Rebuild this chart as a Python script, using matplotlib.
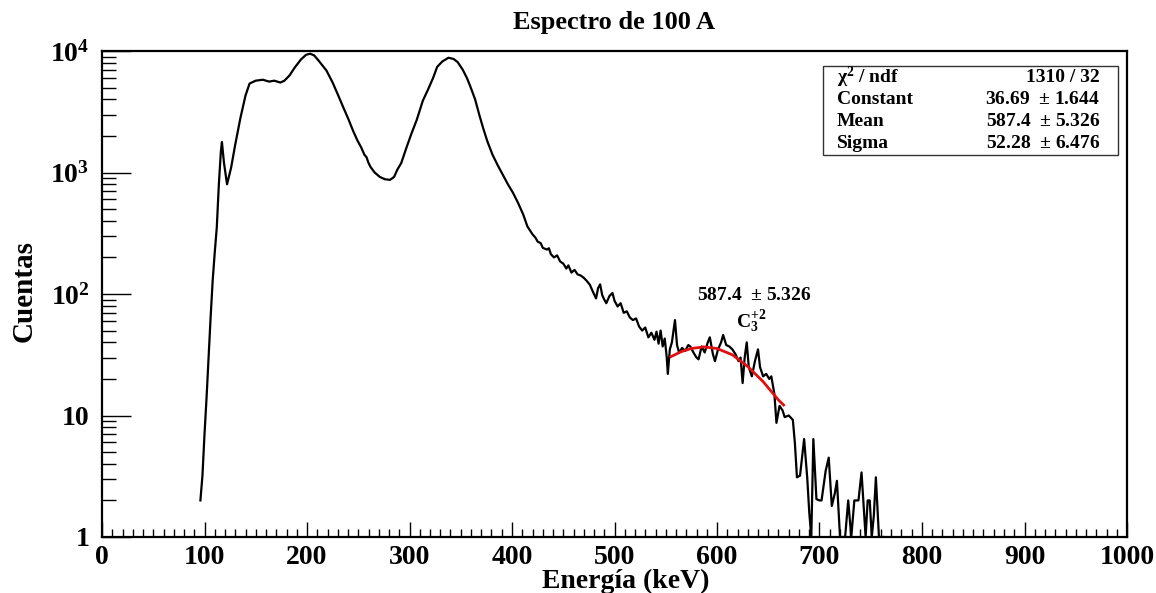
"""
Espectro de 100 A: energy spectrum (log scale) with gaussian fit on the C3+2 peak.
"""

import matplotlib
matplotlib.use('Agg')
import matplotlib.pyplot as plt
from matplotlib.ticker import FixedLocator, NullFormatter, LogLocator
from matplotlib.patches import Rectangle

# spectrum: energy (keV) and counts
energy = [96, 98, 100, 102, 104, 106, 108, 110, 112, 114, 116, 117, 119, 122,
          126, 130, 135, 140, 144, 150, 157, 163, 168, 174, 178, 183, 188, 194,
          199, 203, 207, 212, 219, 225, 230, 235, 240, 245, 249, 253, 256, 258,
          260, 262, 266, 271, 276, 281, 285, 288, 292, 297, 302, 307, 313, 318,
          323, 327, 332, 338, 343, 347, 352, 356, 359, 364, 368, 372, 376, 381,
          386, 391, 396, 401, 406, 411, 415, 420, 423, 425, 428, 430, 434, 436,
          438, 441, 444, 447, 450, 453, 455, 458, 461, 464, 467, 470, 473, 476,
          479, 482, 484, 486, 488, 490, 492, 495, 498, 500, 503, 506, 509, 512,
          515, 518, 521, 524, 527, 530, 533, 536, 539, 541, 543, 545, 547, 549,
          551, 552, 554, 556, 559, 561, 563, 566, 569, 572, 574, 577, 580, 582,
          585, 588, 591, 593, 596, 598, 601, 604, 606, 609, 612, 615, 618, 621,
          623, 625, 627, 629, 631, 634, 637, 640, 642, 645, 648, 651, 653, 656,
          658, 661, 664, 666, 670, 674, 676, 678, 681, 685, 688, 690, 692, 694,
          697, 700, 702, 706, 709, 712, 715, 717, 720, 725, 728, 731, 734, 738,
          741, 745, 747, 749, 751, 753, 755, 758, 763]
counts = [2, 3.2, 7, 14, 30, 65, 130, 220, 355, 800, 1500, 1780, 1200, 800,
          1100, 1700, 2800, 4300, 5400, 5700, 5800, 5600, 5700, 5500, 5700, 6300,
          7300, 8500, 9300, 9500, 9200, 8200, 6900, 5500, 4400, 3500, 2800, 2200,
          1850, 1600, 1400, 1340, 1200, 1110, 1000, 920, 880, 870, 920, 1050,
          1200, 1600, 2100, 2700, 3900, 4800, 6000, 7400, 8200, 8800, 8600, 8100,
          7000, 6000, 5200, 4000, 3000, 2300, 1800, 1400, 1150, 960, 800, 680,
          560, 450, 360, 310, 290, 270, 262, 240, 232, 238, 212, 200, 208, 185,
          178, 162, 172, 150, 158, 145, 142, 136, 128, 119, 104, 92, 112, 120,
          98, 90, 84, 96, 102, 88, 79, 84, 70, 72, 64, 61, 63, 54, 50, 53, 44,
          48, 42, 49, 39, 50, 37, 43, 30, 22, 35, 40, 61, 38, 33, 36, 34, 38,
          37, 33, 30, 29, 37, 33, 40, 44, 32, 28, 35, 40, 46, 38, 37, 35, 32, 28,
          30, 18.5, 30, 40, 25, 21, 28, 35, 25, 21, 22, 20, 21, 15, 8.7, 12, 11,
          9.7, 10, 9.2, 5.9, 3.1, 3.2, 6.4, 3.1, 1.6, 1, 6.4, 2.05, 2, 2, 3.5,
          4.5, 1.8, 2.3, 2.9, 1, 1, 2, 1, 2, 2, 3.4, 1, 2, 2, 1, 1.5, 3.1, 1, 1]

# gaussian fit curve (red)
fit_energy = [555, 565, 575, 587, 600, 615, 630, 645, 660, 665]
fit_counts = [30.5, 33.5, 35.6, 36.7, 35.6, 31.6, 25.3, 19.0, 13.4, 12.2]

# stats box
stat_names = [r'$\chi^{2}$ / ndf', 'Constant', 'Mean', 'Sigma']
stat_values = ['1310 / 32', r'36.69  $\pm$ 1.644', r'587.4  $\pm$ 5.326',
               r'52.28  $\pm$ 6.476']

ytick_vals = [1, 10, 100, 1000, 10000]
ytick_labels = ['1', '10', r'$10^{2}$', r'$10^{3}$', r'$10^{4}$']

SERIF = 'Liberation Serif'


def main():
    plt.rcParams['font.family'] = [SERIF, 'DejaVu Serif']
    plt.rcParams['font.weight'] = 'bold'
    plt.rcParams['mathtext.fontset'] = 'custom'
    plt.rcParams['mathtext.rm'] = SERIF + ':bold'
    plt.rcParams['mathtext.bf'] = SERIF + ':bold'
    plt.rcParams['mathtext.it'] = SERIF + ':bold:italic'
    plt.rcParams['mathtext.default'] = 'rm'

    W, H = 1156, 593
    fig = plt.figure(figsize=(W / 100, H / 100), dpi=100)
    ax = fig.add_axes([102 / W, 1 - 537 / H, (1127 - 102) / W, (537 - 51) / H])

    ax.plot(energy, counts, color='black', lw=1.6)
    ax.plot(fit_energy, fit_counts, color='#e01010', lw=2.0)

    ax.set_yscale('log')
    ax.set_xlim(0, 1000)
    ax.set_ylim(1, 10000)

    ax.yaxis.set_major_locator(FixedLocator(ytick_vals))
    ax.set_yticklabels(ytick_labels)
    ax.yaxis.set_minor_locator(LogLocator(base=10, subs=range(2, 10)))
    ax.yaxis.set_minor_formatter(NullFormatter())
    ax.set_xticks(range(0, 1001, 100))
    ax.set_xticks(range(0, 1001, 10), minor=True)

    ax.tick_params(axis='both', which='both', direction='in', top=False,
                   right=False, labelsize=20, width=1.0)
    ax.tick_params(axis='y', which='major', length=21, pad=9)
    ax.tick_params(axis='y', which='minor', length=10)
    ax.tick_params(axis='x', which='major', length=11, pad=6)
    ax.tick_params(axis='x', which='minor', length=5.5)
    for lab in ax.get_xticklabels() + ax.get_yticklabels():
        lab.set_fontweight('bold')
    for sp in ax.spines.values():
        sp.set_linewidth(1.6)

    fig.text(614 / W, 1 - 22 / H, 'Espectro de 100 A', ha='center',
             va='center', fontsize=19, fontweight='bold')
    fig.text(626 / W, 1 - 581 / H, 'Energía (keV)', ha='center', va='center',
             fontsize=20, fontweight='bold')
    fig.text(24 / W, 1 - 291 / H, 'Cuentas', ha='center', va='center',
             rotation=90, fontsize=21, fontweight='bold')

    # annotation of the fitted peak
    ax.text(580.5, 98, r'587.4  $\pm$ 5.326', ha='left', va='center',
            fontsize=14, fontweight='bold')
    ax.text(619, 59, r'$\mathrm{C}_{3}^{+2}$', ha='left', va='center',
            fontsize=14)

    # stats box
    box = Rectangle((823 / W, 1 - 155 / H), (1118 - 823) / W, (155 - 66) / H,
                    transform=fig.transFigure, facecolor='white',
                    edgecolor='#333333', lw=1.0)
    fig.patches.append(box)
    row_y = [77, 100, 122, 143]
    for name, val, y in zip(stat_names, stat_values, row_y):
        fig.text(837 / W, 1 - y / H, name, ha='left', va='center',
                 fontsize=14, fontweight='bold')
        fig.text(1100 / W, 1 - y / H, val, ha='right', va='center',
                 fontsize=14, fontweight='bold')

    fig.savefig('out.png', dpi=100)
    plt.close(fig)


if __name__ == '__main__':
    main()
